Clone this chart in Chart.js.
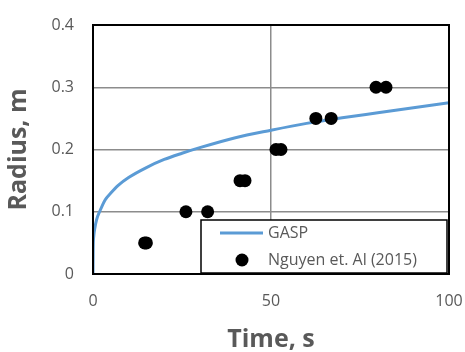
<!DOCTYPE html>
<html><head><meta charset="utf-8">
<script src="https://cdn.jsdelivr.net/npm/chart.js@4/dist/chart.umd.min.js"></script>
<style>html,body{margin:0;padding:0;background:#fff}#wrap{width:465px;height:352px}</style>
</head><body><div id="wrap"><canvas id="c" width="465" height="352"></canvas></div>
<script>
const gaspTime   = [0, 0.05, 0.2, 0.5, 1, 2, 3.4, 5, 7, 10, 15, 20, 25, 30, 40, 50, 60, 70, 80, 90, 100];
const gaspRadius = [0, 0.04, 0.06, 0.073, 0.087, 0.102, 0.119, 0.13, 0.142, 0.155, 0.171, 0.184, 0.194, 0.203, 0.219, 0.231, 0.242, 0.251, 0.259, 0.267, 0.275];
const expTime    = [14.5, 15.0, 26.1, 32.2, 41.3, 42.7, 51.4, 52.8, 62.6, 66.9, 79.5, 82.3];
const expRadius  = [0.05, 0.05, 0.10, 0.10, 0.15, 0.15, 0.20, 0.20, 0.25, 0.25, 0.30, 0.30];
const xTicks = [0, 50, 100];
const yTicks = [0, 0.1, 0.2, 0.3, 0.4];
const seriesNames = ['GASP', 'Nguyen et. Al (2015)'];

const grey = '#595959';
const gridCol = '#8c8c8c';

const framePlugin = {
  id: 'frame',
  afterDatasetsDraw(chart) {
    const {ctx, chartArea: a} = chart;
    ctx.save();
    ctx.strokeStyle = '#000';
    ctx.lineWidth = 2;
    ctx.strokeRect(a.left, a.top, a.right - a.left, a.bottom - a.top);
    ctx.restore();
  },
  afterDraw(chart) {
    const {ctx, chartArea: a} = chart;
    const l = a.right - 248, t = a.bottom - 54, r = a.right - 2, b = a.bottom - 1;
    ctx.save();
    ctx.fillStyle = '#fff';
    ctx.fillRect(l, t, r - l, b - t);
    ctx.strokeStyle = '#000';
    ctx.lineWidth = 1.5;
    ctx.strokeRect(l, t, r - l, b - t);
    const ds0 = chart.data.datasets[0], ds1 = chart.data.datasets[1];
    ctx.strokeStyle = ds0.borderColor;
    ctx.lineWidth = ds0.borderWidth;
    ctx.beginPath();
    ctx.moveTo(l + 19, t + 13);
    ctx.lineTo(l + 62, t + 13);
    ctx.stroke();
    ctx.fillStyle = ds1.backgroundColor;
    ctx.beginPath();
    ctx.arc(l + 41, t + 40, ds1.pointRadius, 0, Math.PI * 2);
    ctx.fill();
    ctx.fillStyle = grey;
    ctx.font = '16px "Open Sans"';
    ctx.textBaseline = 'middle';
    ctx.textAlign = 'left';
    ctx.fillText(seriesNames[0], l + 67, t + 13);
    ctx.fillText(seriesNames[1], l + 67, t + 40);
    ctx.restore();
  }
};

new Chart(document.getElementById('c'), {
  type: 'scatter',
  data: {
    datasets: [
      {
        label: seriesNames[0],
        data: gaspTime.map((x, i) => ({x, y: gaspRadius[i]})),
        showLine: true,
        borderColor: '#5B9BD5',
        backgroundColor: '#5B9BD5',
        borderWidth: 3,
        pointRadius: 0,
        cubicInterpolationMode: 'monotone',
        order: 2
      },
      {
        label: seriesNames[1],
        data: expTime.map((x, i) => ({x, y: expRadius[i]})),
        showLine: false,
        backgroundColor: '#000',
        borderColor: '#000',
        pointRadius: 6.5,
        borderWidth: 0,
        order: 1
      }
    ]
  },
  options: {
    responsive: false,
    animation: false,
    layout: {padding: {left: 0, top: 25, right: 16, bottom: 0}},
    plugins: {legend: {display: false}, tooltip: {enabled: false}},
    scales: {
      x: {
        type: 'linear', min: 0, max: 100,
        afterBuildTicks(s) { s.ticks = xTicks.map(v => ({value: v})); },
        afterFit(s) { s.height = 78; s.paddingRight = 0; s.paddingLeft = 0; },
        grid: {color: gridCol, lineWidth: 1.5, drawTicks: false},
        border: {display: false},
        ticks: {color: grey, font: {family: 'Open Sans', size: 16}, padding: 18, maxRotation: 0},
        title: {display: true, text: 'Time, s', color: grey, font: {family: 'Open Sans', size: 25, weight: 'bold'}, padding: {top: 0, bottom: -3}}
      },
      y: {
        type: 'linear', min: 0, max: 0.4,
        afterBuildTicks(s) { s.ticks = yTicks.map(v => ({value: v})); },
        afterFit(s) { s.width = 93; s.paddingTop = 0; s.paddingBottom = 0; },
        grid: {color: gridCol, lineWidth: 1.5, drawTicks: false},
        border: {display: false},
        ticks: {color: grey, font: {family: 'Open Sans', size: 16}, padding: 19,
          callback: v => String(v)},
        title: {display: true, text: 'Radius, m', color: grey, font: {family: 'Open Sans', size: 25, weight: 'bold'}, padding: {top: 4, bottom: 0}}
      }
    }
  },
  plugins: [framePlugin]
});
</script></body></html>
